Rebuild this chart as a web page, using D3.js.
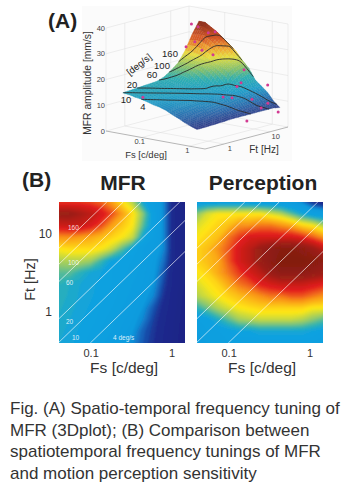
<!DOCTYPE html>
<html>
<head>
<meta charset="utf-8">
<script src="https://cdn.jsdelivr.net/npm/d3@7"></script>
<style>
  html, body { margin: 0; padding: 0; background: #fff; }
  svg { display: block; }
  text { font-family: "Liberation Sans", Arial, sans-serif; }
</style>
</head>
<body>
<svg id="drawing_region" width="350" height="490"></svg>
<script>
// grid axes of both tuning maps
const fsGrid = [0.04, 0.054, 0.073, 0.098, 0.132, 0.178, 0.24, 0.324, 0.437, 0.59, 0.795, 1.07, 1.45];
const ftGrid = [25, 17.7, 12.6, 8.9, 6.3, 4.5, 3.16, 2.2, 1.6, 1.1, 0.79, 0.56, 0.39];

// MFR amplitude [mm/s], rows follow ftGrid, columns follow fsGrid
const mfrValues = [
  [29, 29, 29, 28.5, 27.5, 25.5, 22.5, 20, 16, 14, 12, 9, 7],
  [36, 36, 34.5, 33, 31, 28.5, 25.5, 22.5, 19, 14.5, 12, 9, 7.5],
  [31.5, 32, 32, 30.5, 28.5, 25.5, 23.5, 22, 18, 14.5, 12, 9, 7.5],
  [26, 26, 25.5, 25, 24, 23, 22, 20.5, 16, 14, 12, 9, 7.5],
  [22, 22.5, 22.5, 22.5, 22, 20.5, 18, 15.5, 14, 13.5, 12, 9, 7.5],
  [19.8, 20, 20, 19.5, 17.5, 15.5, 15, 14.5, 14, 13, 11.5, 9, 7.5],
  [18, 18, 17, 16, 15.5, 15, 14.7, 14.3, 13.7, 12.8, 11, 8.5, 7.5],
  [17, 16.5, 16, 15.7, 15.3, 15, 14.5, 14, 13.5, 12.5, 10.5, 8.5, 7.5],
  [16.8, 16.4, 15.9, 15.6, 15.2, 14.8, 14.3, 13.8, 13, 12, 10, 8.3, 7.3],
  [16.6, 16.2, 15.8, 15.4, 15, 14.6, 14, 13.5, 12.5, 11, 9.5, 8.2, 7.2],
  [16.4, 16, 15.6, 15.2, 14.8, 14.2, 13.7, 13, 12, 10.5, 9.2, 8, 7.1],
  [16.2, 15.8, 15.4, 15, 14.5, 14, 13.4, 12.6, 11.2, 10.2, 9, 7.9, 7],
  [16, 15.7, 15.2, 14.8, 14.2, 13.5, 13, 12.2, 11, 10, 8.8, 7.8, 7]
];

// perception sensitivity, same grid, same colour units
const perceptionValues = [
  [14.5, 14.5, 14.5, 14.5, 14.5, 14.5, 14, 14, 13.5, 13, 12, 10, 9],
  [19, 21, 22, 22, 22, 22, 22, 21, 20, 18, 16, 14.5, 14],
  [21, 22, 23, 24, 26, 26, 27, 27, 26, 25, 23, 22, 20],
  [22, 23, 24, 27, 29, 31, 31, 31, 31, 31, 30, 28, 26],
  [23, 24, 26, 28, 31, 33, 36, 38, 39, 39, 38, 36, 33],
  [23, 24, 25, 28, 31, 33, 36, 38, 40, 40, 40, 39, 38],
  [22, 23, 25, 27, 29, 31, 33, 36, 38, 38, 38, 37, 36],
  [21, 22, 23, 25, 27, 28, 30, 31, 32, 32, 32, 31, 30],
  [20, 21, 22, 23, 24, 25, 26, 27, 27, 28, 28, 27, 26],
  [17, 18.5, 20, 21, 22, 22.5, 23, 23, 23, 23, 23, 22, 22],
  [14.5, 15, 16.5, 18, 19.5, 20, 20.5, 20.5, 20.5, 20.5, 20, 19, 18],
  [14, 14.5, 14.5, 15, 15.5, 15.5, 16, 16, 16, 16, 16, 15.5, 15],
  [13.5, 14, 14, 14.5, 14.5, 14.5, 14.5, 14.5, 14.5, 14.5, 14.5, 14.5, 14]
];

// measured points in the 3D plot
const pointFs = [0.035, 0.05, 0.1, 0.1, 0.05, 0.1, 0.1, 0.2, 0.4, 0.4, 0.4, 0.8, 0.4, 0.4, 0.8, 1, 1.4, 1, 1, 0.05];
const pointFt = [14, 13.5, 11, 15.5, 7.4, 5.6, 8, 6.8, 15.7, 13.5, 11, 25, 5.5, 8.6, 11.4, 20, 23.7, 14.3, 7, 0.85];
const pointAmp = [35.2, 34.7, 33.8, 33.5, 28.2, 31.7, 27.7, 27.3, 20.7, 16, 15, 14.9, 12.3, 11.1, 11, 8.6, 5.3, 7.4, 3.8, 13];

const speeds = [4, 10, 20, 60, 100, 160];
const speedLabels3d = ["4", "10", "20", "60", "100", "160"];
const speedLabelsMap = ["4 deg/s", "10", "20", "60", "100", "160"];
const ampTicks = [0, 10, 20, 30, 40];
const fsTicks = [0.1, 1];
const ftTicks = [1, 10];
const captionLines = [
  "Fig. (A) Spatio-temporal frequency tuning of",
  "MFR (3Dplot); (B) Comparison between",
  "spatiotemporal frequency tunings of MFR",
  "and motion perception sensitivity"
];

const svg = d3.select('#drawing_region');
svg.append('rect').attr('x', 82).attr('y', 6).attr('width', 210).attr('height', 155).attr('fill', '#fbfbfb');

svg.append('defs').append('filter').attr('id', 'soft')
  .attr('x', '-5%').attr('y', '-5%').attr('width', '110%').attr('height', '110%')
  .append('feGaussianBlur').attr('stdDeviation', 1.1);

const flat = m => m.reduce((a, b) => a.concat(b), []);

// ---------- (B) maps ----------
const mapColor = d3.scaleLinear()
  .domain([7, 10, 11.3, 12.5, 15.5, 17, 19, 22, 26, 30, 35, 41])
  .range(['#1b2385', '#1c2c90', '#1464bb', '#109ade', '#10a2e0', '#2ab0b8', '#8cc870', '#ffe812', '#f9931a', '#e21c1c', '#a02014', '#7c1e10'])
  .clamp(true);

const mapW = 126, mapH = 141, mapTop = 202;
const thresholds = d3.range(6, 41, 0.5);

function drawMap(left, values, id, showY) {
  const g = svg.append('g').attr('transform', `translate(${left},${mapTop})`);
  const x = d3.scaleLog().domain([0.04, 1.45]).range([0, mapW]);
  const y = d3.scaleLog().domain([25, 0.39]).range([0, mapH]);
  // contour coordinates have the grid values at +0.5
  const cx = d3.scaleLinear().domain([0.5, 12.5]).range([0, mapW]);
  const cy = d3.scaleLinear().domain([0.5, 12.5]).range([0, mapH]);
  const path = d3.geoPath(d3.geoTransform({
    point: function(a, b) { this.stream.point(cx(a), cy(b)); }
  }));

  g.append('clipPath').attr('id', id).append('rect').attr('width', mapW).attr('height', mapH);
  const inner = g.append('g').attr('clip-path', `url(#${id})`);

  const bands = d3.contours().size([13, 13]).smooth(true).thresholds(thresholds)(flat(values));
  inner.append('g').attr('filter', 'url(#soft)')
    .selectAll('path.band').data(bands).enter().append('path')
    .attr('class', 'band')
    .attr('d', path)
    .attr('fill', d => mapColor(d.value + 0.25));

  inner.selectAll('line.speed').data(speeds).enter().append('line')
    .attr('class', 'speed')
    .attr('x1', d => x(0.39 / d)).attr('y1', y(0.39))
    .attr('x2', d => x(25 / d)).attr('y2', y(25))
    .attr('stroke', '#fff').attr('stroke-opacity', 0.8).attr('stroke-width', 0.8);

  g.selectAll('text.fs').data(fsTicks).enter().append('text')
    .attr('class', 'fs')
    .attr('x', d => x(d)).attr('y', mapH + 14)
    .attr('text-anchor', 'middle').attr('font-size', 11).attr('fill', '#333')
    .text(d => d);

  g.append('text').attr('x', x(0.1) + 33).attr('y', mapH + 30)
    .attr('text-anchor', 'middle').attr('font-size', 15.5).attr('fill', '#333')
    .text('Fs [c/deg]');

  if (showY) {
    g.selectAll('text.ft').data(ftTicks).enter().append('text')
      .attr('class', 'ft')
      .attr('x', -7).attr('y', d => y(d) + 5)
      .attr('text-anchor', 'end').attr('font-size', 12).attr('fill', '#333')
      .text(d => d);
    g.append('text').attr('transform', `translate(-24,${mapH / 2 + 7}) rotate(-90)`)
      .attr('text-anchor', 'middle').attr('font-size', 14.5).attr('fill', '#333')
      .text('Ft [Hz]');

    // speed labels sit just inside the left edge
    const labelPos = [[54, 135], [13, 135], [7, 119], [7, 80], [9, 60], [9, 25]];
    g.selectAll('text.sl').data(speedLabelsMap).enter().append('text')
      .attr('class', 'sl')
      .attr('x', (d, i) => labelPos[i][0]).attr('y', (d, i) => labelPos[i][1] + 3)
      .attr('font-size', 6.5).attr('fill', '#fff').attr('fill-opacity', 0.85)
      .text(d => d);
  }
}

drawMap(59, mfrValues, 'clip_mfr', true);
drawMap(197, perceptionValues, 'clip_perc', false);

svg.append('text').attr('x', 123).attr('y', 190).attr('text-anchor', 'middle')
  .attr('font-size', 21).attr('font-weight', 'bold').attr('fill', '#222').text('MFR');
svg.append('text').attr('x', 263).attr('y', 190).attr('text-anchor', 'middle')
  .attr('font-size', 21).attr('font-weight', 'bold').attr('fill', '#222').text('Perception');
svg.append('text').attr('x', 22).attr('y', 187)
  .attr('font-size', 21).attr('font-weight', 'bold').attr('fill', '#222').text('(B)');
svg.append('text').attr('x', 48).attr('y', 28)
  .attr('font-size', 21).attr('font-weight', 'bold').attr('fill', '#222').text('(A)');

// ---------- (A) 3D surface ----------
// floor of the box: left corner (106,131), Fs runs to (205,149), Ft runs on to (288,127)
const fsX = d3.scaleLog().domain([0.0178, 2.14]).range([0, 99]);
const fsY = d3.scaleLog().domain([0.0178, 2.14]).range([0, 18]);
const ftX = d3.scaleLog().domain([0.39, 25]).range([0, 83]);
const ftY = d3.scaleLog().domain([0.39, 25]).range([0, -22]);
const ampY = d3.scaleLinear().domain([0, 40]).range([0, -103]);
const project = (fs, ft, amp) => [106 + fsX(fs) + ftX(ft), 131 + fsY(fs) + ftY(ft) + ampY(amp)];

const surfColor = d3.scaleLinear()
  .domain([7, 10, 14, 18, 21, 25, 28, 31, 36])
  .range(['#35408c', '#2f6fb0', '#22a0cc', '#30b0b0', '#80c070', '#e8e040', '#f0a030', '#d85a28', '#8a3020'])
  .clamp(true);

const box = svg.append('g').attr('fill', 'none').attr('stroke', '#dcdcdc').attr('stroke-width', 0.5);
const boxFs = [0.0178, 2.14], boxFt = [0.39, 25];
const seg = (a, b) => box.append('line').attr('x1', a[0]).attr('y1', a[1]).attr('x2', b[0]).attr('y2', b[1]);
// walls with amplitude grid
ampTicks.forEach(a => {
  seg(project(boxFs[0], boxFt[0], a), project(boxFs[0], boxFt[1], a));
  seg(project(boxFs[0], boxFt[1], a), project(boxFs[1], boxFt[1], a));
});
seg(project(boxFs[0], boxFt[0], 0), project(boxFs[0], boxFt[0], 40));
seg(project(boxFs[0], boxFt[1], 0), project(boxFs[0], boxFt[1], 40));
seg(project(boxFs[1], boxFt[1], 0), project(boxFs[1], boxFt[1], 40));
fsTicks.forEach(f => {
  seg(project(f, boxFt[0], 0), project(f, boxFt[1], 0));
  seg(project(f, boxFt[1], 0), project(f, boxFt[1], 40));
});
ftTicks.forEach(f => {
  seg(project(boxFs[0], f, 0), project(boxFs[1], f, 0));
  seg(project(boxFs[0], f, 0), project(boxFs[0], f, 40));
});
// front floor edges
const edges = svg.append('g').attr('stroke', '#888').attr('stroke-width', 0.6);
[[[boxFs[0], boxFt[0]], [boxFs[1], boxFt[0]]], [[boxFs[1], boxFt[0]], [boxFs[1], boxFt[1]]]].forEach(e => {
  const a = project(e[0][0], e[0][1], 0), b = project(e[1][0], e[1][1], 0);
  edges.append('line').attr('x1', a[0]).attr('y1', a[1]).attr('x2', b[0]).attr('y2', b[1]);
});

// surface height between grid values, in log coordinates
const fsIndex = d3.scaleLog().domain([0.04, 1.45]).range([0, 12]).clamp(true);
const ftIndex = d3.scaleLog().domain([25, 0.39]).range([0, 12]).clamp(true);
function surface(i, j) {
  const i0 = Math.min(Math.floor(i), 11), j0 = Math.min(Math.floor(j), 11);
  const a = i - i0, b = j - j0;
  return (1 - b) * ((1 - a) * mfrValues[j0][i0] + a * mfrValues[j0][i0 + 1])
    + b * ((1 - a) * mfrValues[j0 + 1][i0] + a * mfrValues[j0 + 1][i0 + 1]);
}

const sub = 3;
const quads = [];
for (let j = 0; j < 12 * sub; j++) {
  for (let i = 0; i < 12 * sub; i++) {
    const corners = [[i, j], [i + 1, j], [i + 1, j + 1], [i, j + 1]].map(c => {
      const ci = c[0] / sub, cj = c[1] / sub;
      return project(fsIndex.invert(ci), ftIndex.invert(cj), surface(ci, cj));
    });
    const mid = surface((i + 0.5) / sub, (j + 0.5) / sub);
    quads.push({ corners: corners, amp: mid, depth: i + j });
  }
}
quads.sort((a, b) => a.depth - b.depth);

svg.append('g').selectAll('path').data(quads).enter().append('path')
  .attr('d', d => d3.line()(d.corners) + 'Z')
  .attr('fill', d => surfColor(d.amp))
  .attr('stroke', d => d3.color(surfColor(d.amp)).darker(0.2))
  .attr('stroke-width', 0.3);

// iso-speed curves on the surface
const curve = d3.line().curve(d3.curveBasis);
speeds.forEach(v => {
  const pts = [];
  for (let k = 0; k <= 48; k++) {
    const ci = k / 4;
    const fs = fsIndex.invert(ci), ft = fs * v;
    if (ft < 0.39 || ft > 25) continue;
    pts.push(project(fs, ft, surface(ci, ftIndex(ft))));
  }
  svg.append('path').attr('d', curve(pts))
    .attr('fill', 'none').attr('stroke', '#2a2a2a').attr('stroke-width', 0.9);
});

svg.append('g').selectAll('circle').data(pointFs).enter().append('circle')
  .attr('cx', (d, i) => project(d, pointFt[i], pointAmp[i])[0])
  .attr('cy', (d, i) => project(d, pointFt[i], pointAmp[i])[1])
  .attr('r', 1.5).attr('fill', '#d23a92');

// axis labels of the 3D plot
const tick3d = svg.append('g').attr('font-size', 7.5).attr('fill', '#444');
tick3d.selectAll('text.a').data(ampTicks).enter().append('text')
  .attr('class', 'a')
  .attr('x', 105).attr('y', d => project(boxFs[0], boxFt[0], d)[1] + 2.5)
  .attr('text-anchor', 'end').text(d => d);
tick3d.selectAll('text.f').data(fsTicks).enter().append('text')
  .attr('class', 'f')
  .attr('x', d => project(d, boxFt[0], 0)[0] - 2).attr('y', d => project(d, boxFt[0], 0)[1] + 7)
  .attr('text-anchor', 'middle').text(d => d);
tick3d.selectAll('text.t').data(ftTicks).enter().append('text')
  .attr('class', 't')
  .attr('x', d => project(boxFs[1], d, 0)[0] + 6).attr('y', d => project(boxFs[1], d, 0)[1] + 7)
  .attr('text-anchor', 'middle').text(d => d);

const label3d = svg.append('g').attr('fill', '#333');
label3d.append('text').attr('transform', 'translate(91,83) rotate(-90)').attr('font-size', 10.3).attr('text-anchor', 'middle').text('MFR amplitude [mm/s]');
label3d.append('text').attr('x', 146).attr('y', 158).attr('font-size', 9.5).attr('text-anchor', 'middle').text('Fs [c/deg]');
label3d.append('text').attr('x', 264).attr('y', 153).attr('font-size', 10).attr('text-anchor', 'middle').text('Ft [Hz]');

const speedLabelPos = [[143, 110], [126, 103], [132, 88], [152, 78], [162, 69], [170, 57]];
svg.append('g').attr('font-size', 9.5).attr('fill', '#222').attr('text-anchor', 'middle')
  .selectAll('text').data(speedLabels3d).enter().append('text')
  .attr('x', (d, i) => speedLabelPos[i][0]).attr('y', (d, i) => speedLabelPos[i][1])
  .text(d => d);
svg.append('text').attr('transform', 'translate(141,67) rotate(-38)')
  .attr('text-anchor', 'middle').attr('font-size', 9.5).attr('fill', '#222').text('[deg/s]');

// ---------- caption ----------
svg.append('g').attr('font-size', 17).attr('fill', '#333')
  .selectAll('text').data(captionLines).enter().append('text')
  .attr('x', 10).attr('y', (d, i) => 414 + i * 21.7)
  .text(d => d);
</script>
</body>
</html>
